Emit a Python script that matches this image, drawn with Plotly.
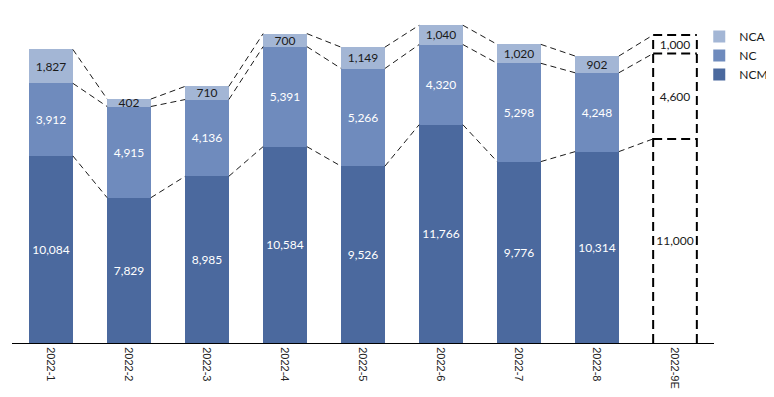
import plotly.graph_objects as go

categories = ["2022-1", "2022-2", "2022-3", "2022-4", "2022-5", "2022-6", "2022-7", "2022-8", "2022-9E"]
ncm = [10084, 7829, 8985, 10584, 9526, 11766, 9776, 10314, 11000]
nc = [3912, 4915, 4136, 5391, 5266, 4320, 5298, 4248, 4600]
nca = [1827, 402, 710, 700, 1149, 1040, 1020, 902, 1000]
series_names = ["NCM", "NC", "NCA"]

colors = {"NCM": "#4B699E", "NC": "#6F8BBD", "NCA": "#A3B6D5"}
text_colors = {"NCM": "white", "NC": "white", "NCA": "#1a1a1a"}
W = 0.56  # bar width in category units
n = len(categories)
est = n - 1  # index of estimated bar
xs = list(range(n))

fig = go.Figure()
data = {"NCM": ncm, "NC": nc, "NCA": nca}
for name in series_names:
    vals = data[name]
    mcols = [colors[name] if i != est else "rgba(255,255,255,0)" for i in range(n)]
    tcols = [text_colors[name] if i != est else "#1a1a1a" for i in range(n)]
    fig.add_trace(go.Bar(
        x=xs, y=vals, name=name, width=W,
        marker=dict(color=mcols, line=dict(width=0)),
        text=[f"{v:,}" for v in vals], textposition="inside",
        insidetextanchor="middle", textangle=0, constraintext="none",
        textfont=dict(color=tcols, size=12, family="Lato"),
        hoverinfo="skip",
    ))

# cumulative tops
cum1 = ncm
cum2 = [a + b for a, b in zip(ncm, nc)]
cum3 = [a + b + c for a, b, c in zip(ncm, nc, nca)]

# series lines between bars
for cum in (cum1, cum2, cum3):
    lx, ly = [], []
    for i in range(n - 1):
        lx += [i + W / 2, i + 1 - W / 2, None]
        ly += [cum[i], cum[i + 1], None]
    fig.add_trace(go.Scatter(x=lx, y=ly, mode="lines", showlegend=False,
                             line=dict(color="#1a1a1a", width=1, dash="6px,4px"),
                             hoverinfo="skip"))

# dashed outline for estimated bar
ox, oy = [], []
for cum in (cum1, cum2, cum3):
    ox += [est - W / 2, est + W / 2, None]
    oy += [cum[est], cum[est], None]
for side in (est - W / 2, est + W / 2):
    ox += [side, side, None]
    oy += [0, cum3[est], None]
fig.add_trace(go.Scatter(x=ox, y=oy, mode="lines", showlegend=False,
                         line=dict(color="black", width=2, dash="9px,5px"),
                         hoverinfo="skip"))

fig.update_layout(
    barmode="stack",
    width=766, height=389,
    margin=dict(l=4, r=52, t=1, b=54),
    plot_bgcolor="white", paper_bgcolor="white",
    font=dict(family="Lato", size=12, color="#1a1a1a"),
    legend=dict(x=0.979, y=0.961, xanchor="left", yanchor="top",
                traceorder="reversed", font=dict(size=12, family="Lato"),
                itemwidth=30, tracegroupgap=0, bgcolor="rgba(0,0,0,0)"),
    xaxis=dict(tickmode="array", tickvals=xs, ticktext=categories,
               range=[-0.5, n - 0.5], tickangle=90, showline=True,
               linecolor="black", linewidth=1, ticks="", showgrid=False,
               ticklabelstandoff=1,
               zeroline=False, tickfont=dict(size=11, family="Liberation Sans", color="#222")),
    yaxis=dict(range=[0, 18000], visible=False, showgrid=False),
    showlegend=True,
)

fig.write_html("out.html")
